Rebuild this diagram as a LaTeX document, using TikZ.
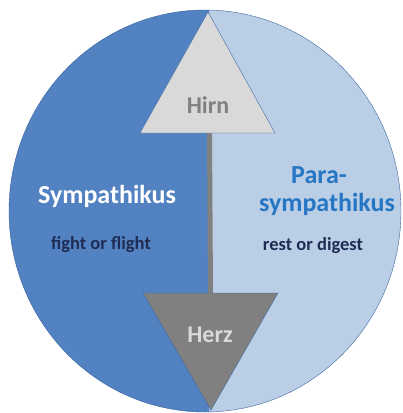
\documentclass[tikz,border=0pt]{standalone}
\usepackage{fontspec}
\setmainfont{Carlito}
\usetikzlibrary{positioning}
\definecolor{sympBlue}{RGB}{82,130,194}
\definecolor{paraBlue}{RGB}{186,206,230}
\definecolor{edgeBlue}{RGB}{62,104,160}
\definecolor{hirnGray}{RGB}{217,217,217}
\definecolor{herzGray}{RGB}{128,128,128}
\definecolor{titleBlue}{RGB}{38,118,196}
\definecolor{navyText}{RGB}{31,45,85}

\begin{document}
\begin{tikzpicture}[x=1pt, y=-1pt,
    bigtext/.style={font=\bfseries\fontsize{24}{28}\selectfont},
    titletext/.style={font=\bfseries\fontsize{26}{30}\selectfont},
    smalltext/.style={font=\bfseries\fontsize{18.5}{22}\selectfont, text=navyText}]
    \useasboundingbox (0,0) rectangle (403,413);

    % Kreis: links Sympathikus, rechts Parasympathikus
    \fill[paraBlue] (205,211) ellipse [x radius=196, y radius=201];
    \begin{scope}
        \clip (0,0) rectangle (209,413);
        \fill[sympBlue] (205,211) ellipse [x radius=196, y radius=201];
    \end{scope}
    \draw[edgeBlue] (205,211) ellipse [x radius=196, y radius=201];

    % Verbindung Hirn - Herz
    \coordinate (hirnBase) at (209.5,133);
    \coordinate (herzBase) at (210.5,293);
    \draw[herzGray, line width=5pt] (hirnBase) -- (herzBase);

    % Dreiecke
    \filldraw[fill=hirnGray, draw=edgeBlue] (208,12) -- (140,133) -- (275,133) -- cycle;
    \filldraw[fill=herzGray, draw=edgeBlue] (143,293) -- (278,293) -- (211,410) -- cycle;
    \node[bigtext, text=herzGray] (hirn) at (208,105) {Hirn};
    \node[bigtext, text=hirnGray] (herz) at (210,335) {Herz};

    % Beschriftungen
    \node[titletext, text=white] (symp) at (107,196) {Sympathikus};
    \node[smalltext] (fight) at (101,245) {fight or flight};
    \node[titletext, text=titleBlue] (para) at (319,175) {Para-};
    \node[titletext, text=titleBlue] (parasymp) at (327,204) {sympathikus};
    \node[smalltext] (rest) at (313,246) {rest or digest};
\end{tikzpicture}
\end{document}
